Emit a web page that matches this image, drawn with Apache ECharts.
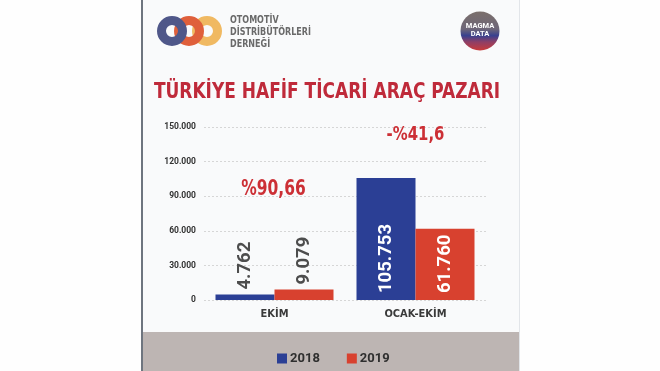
<!DOCTYPE html>
<html>
<head>
<meta charset="utf-8">
<script src="https://cdn.jsdelivr.net/npm/echarts@6/dist/echarts.min.js"></script>
<style>
html,body{margin:0;padding:0;background:#fefefe;}
#chart{width:660px;height:371px;}
</style>
</head>
<body>
<div id="chart"></div>
<script>
const categories = ['EKİM', 'OCAK-EKİM'];
const seriesNames = ['2018', '2019'];
const values2018 = [4762, 105753];
const values2019 = [9079, 61760];
const yTickMin = 0, yTickMax = 150000, yTickStep = 30000;
const changeLabels = ['%90,66', '-%41,6'];
const titleText = 'TÜRKİYE HAFİF TİCARİ ARAÇ PAZARI';
const logoLines = ['OTOMOTİV', 'DİSTRİBÜTÖRLERİ', 'DERNEĞİ'];

const COND = '"DejaVu Sans Condensed","Roboto",sans-serif';
const BLUE = '#2b3f95', RED = '#d8412f';

function fmt(v){ return String(v).replace(/\B(?=(\d{3})+(?!\d))/g, '.'); }

function buildData(vals){
  return vals.map(v => {
    const small = v < 20000;
    return {
      value: v,
      label: small ? {
        position: 'top', distance: 5, color: '#4d4d4d'
      } : {
        position: 'insideBottom', distance: 7, color: '#ffffff'
      }
    };
  });
}

const labelBase = {
  show: true, rotate: 90, align: 'left', verticalAlign: 'middle',
  fontFamily: 'Roboto', fontWeight: 'bold', fontSize: 18.5,
  formatter: p => fmt(p.value)
};

const chart = echarts.init(document.getElementById('chart'), null, {renderer: 'canvas'});

const option = {
  animation: false,
  backgroundColor: '#fefefe',
  grid: {left: 204, right: 174, top: 127, bottom: 71, containLabel: false},
  legend: {
    data: seriesNames, left: 272, top: 347, icon: 'rect',
    itemWidth: 10, itemHeight: 10, itemGap: 27,
    textStyle: {fontFamily: 'Roboto', fontWeight: 'bold', fontSize: 13, color: '#2f2f2f', padding: [0,0,0,-2]}
  },
  xAxis: {
    type: 'category', data: categories,
    axisLine: {show: false}, axisTick: {show: false},
    axisLabel: {margin: 9, fontFamily: COND, fontWeight: 'bold', fontSize: 11, color: '#3a3a3a'}
  },
  yAxis: {
    type: 'value', min: yTickMin, max: yTickMax, interval: yTickStep,
    axisLine: {show: false}, axisTick: {show: false},
    axisLabel: {margin: 8, fontFamily: 'Roboto', fontWeight: 'bold', fontSize: 8.5, color: '#333', formatter: v => fmt(v)},
    splitLine: {lineStyle: {type: [2, 2], color: '#d6d6d6', width: 1}}
  },
  series: [
    {name: seriesNames[0], type: 'bar', barWidth: 59, barGap: '0%', itemStyle: {color: BLUE},
     label: labelBase, data: buildData(values2018)},
    {name: seriesNames[1], type: 'bar', barWidth: 59, barGap: '0%', itemStyle: {color: RED},
     label: labelBase, data: buildData(values2019)}
  ]
};
chart.setOption(option);

// decorative frame, title, logos and change annotations
const x0 = chart.convertToPixel({xAxisIndex: 0}, categories[0]);
const x1 = chart.convertToPixel({xAxisIndex: 0}, categories[1]);
const logoRings = [
  {cx: 207, color: '#f0b962'},
  {cx: 189, color: '#df5f3b'},
  {cx: 172, color: '#4f5789'}
];
const graphics = [
  {type: 'rect', z: -10, shape: {x: 143, y: 0, width: 376, height: 332}, style: {fill: '#f9fafb'}},
  {type: 'rect', z: -10, shape: {x: 143, y: 332, width: 376, height: 39}, style: {fill: '#bdb5b3'}},
  {type: 'rect', z: -9, shape: {x: 141, y: 0, width: 2, height: 371}, style: {fill: '#6e757f'}},
  {type: 'rect', z: -9, shape: {x: 519, y: 0, width: 1, height: 371}, style: {fill: '#e2e5e9'}},
  {type: 'text', x: 327, y: 93, scaleX: 0.9, style: {text: titleText, fill: '#bf2a3a', font: 'bold 21px ' + COND, align: 'center', verticalAlign: 'middle'}},
  {type: 'text', x: x0 - 1, y: 190, scaleX: 0.82, style: {text: changeLabels[0], fill: '#cc2f35', font: 'bold 21px ' + COND, align: 'center', verticalAlign: 'middle'}},
  {type: 'text', x: x1, y: 135, scaleX: 0.87, style: {text: changeLabels[1], fill: '#cc2f35', font: 'bold 19px ' + COND, align: 'center', verticalAlign: 'middle'}}
];
logoRings.forEach(r => graphics.push({type: 'circle', shape: {cx: r.cx, cy: 31, r: 10.5}, style: {fill: 'none', stroke: r.color, lineWidth: 9}}));
logoLines.forEach((t, i) => graphics.push({type: 'text', x: 230, y: 20 + i * 12, scaleX: 0.85, style: {text: t, fill: '#6a6a6a', font: 'bold 10.5px ' + COND, verticalAlign: 'middle'}}));
graphics.push({type: 'circle', shape: {cx: 480, cy: 31, r: 19.5}, style: {fill: new echarts.graphic.LinearGradient(0, 0, 0, 1, [
  {offset: 0, color: '#7b6f6b'}, {offset: 0.45, color: '#6e6678'}, {offset: 0.62, color: '#38408f'}, {offset: 0.78, color: '#8e3f66'}, {offset: 1, color: '#c93a3a'}
])}});
graphics.push({type: 'text', x: 480, y: 26, style: {text: 'MAGMA', fill: '#fff', font: 'bold 7.5px Roboto', align: 'center', verticalAlign: 'middle'}});
graphics.push({type: 'text', x: 480, y: 34, style: {text: 'DATA', fill: '#fff', font: 'bold 7.5px Roboto', align: 'center', verticalAlign: 'middle'}});
chart.setOption({graphic: {elements: graphics}});
</script>
</body>
</html>
